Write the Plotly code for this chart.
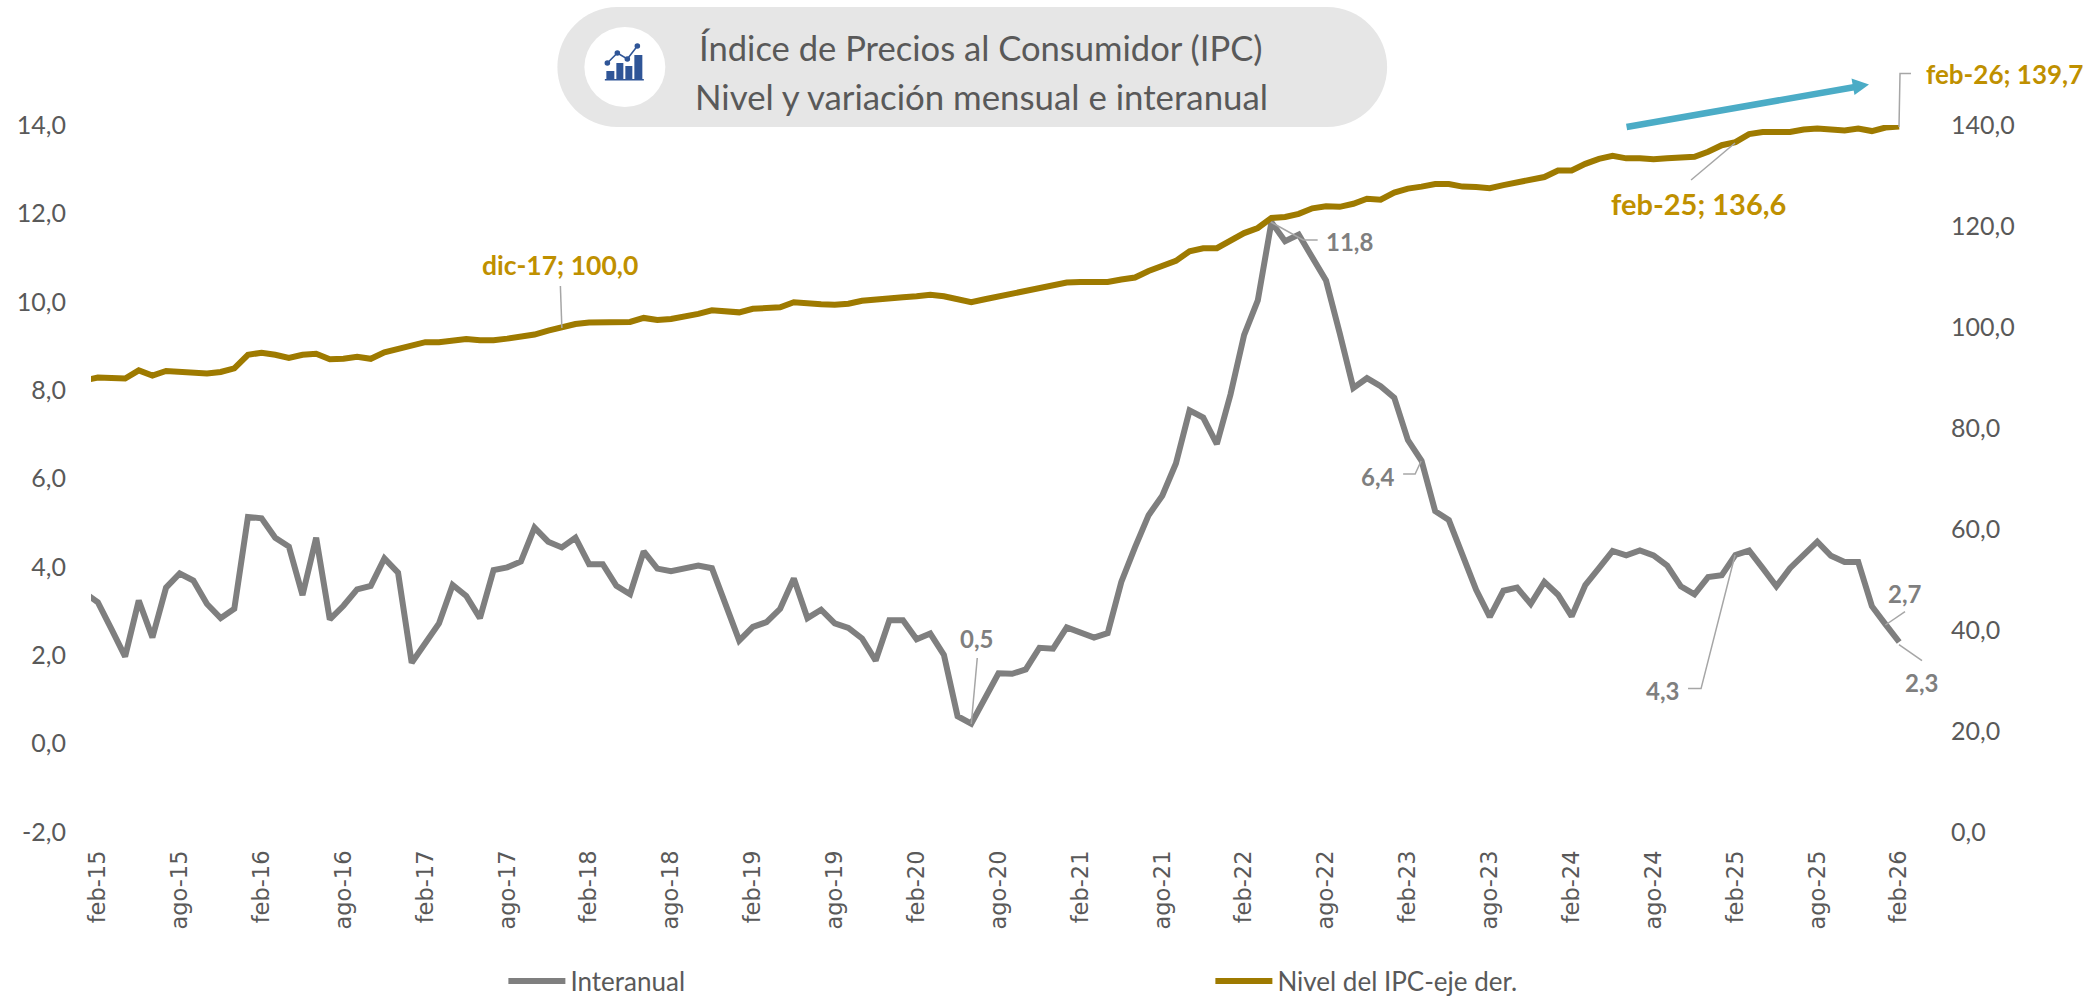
import plotly.graph_objects as go

MONTHS = ["ene","feb","mar","abr","may","jun","jul","ago","sep","oct","nov","dic"]
categories = [f"{m}-{y}" for y in range(15, 26) for m in MONTHS] + ["ene-26", "feb-26"]

interanual = [3.42,3.20,2.59,1.97,3.24,2.40,3.53,3.85,3.69,3.16,2.84,3.05,5.13,5.10,4.66,4.46,3.36,4.66,2.81,3.12,
3.49,3.57,4.19,3.87,1.83,2.25,2.72,3.59,3.34,2.84,3.93,3.99,4.12,4.89,4.57,4.44,4.66,4.06,4.06,3.57,
3.38,4.35,3.96,3.90,3.97,4.03,3.97,3.18,2.33,2.64,2.75,3.05,3.74,2.84,3.03,2.72,2.62,2.38,1.88,2.79,
2.79,2.36,2.49,2.01,0.62,0.45,1.01,1.59,1.58,1.68,2.17,2.15,2.63,2.51,2.40,2.50,3.66,4.44,5.17,5.61,
6.34,7.54,7.38,6.78,7.90,9.25,10.03,11.80,11.37,11.52,11.02,10.48,9.29,8.05,8.27,8.09,7.83,6.87,6.40,5.26,
5.06,4.25,3.48,2.87,3.46,3.53,3.16,3.66,3.37,2.88,3.59,3.97,4.36,4.26,4.37,4.26,4.03,3.56,3.38,3.77,
3.81,4.27,4.37,3.97,3.56,3.97,4.28,4.57,4.25,4.11,4.11,3.11,2.70,2.30]

nivel = [89.4,90.0,89.9,89.8,91.4,90.4,91.3,91.2,91.1,90.8,91.1,91.8,94.5,94.9,94.5,93.9,94.5,94.7,93.6,93.7,
94.1,93.7,95.0,95.6,96.2,97.0,97.0,97.4,97.6,97.4,97.4,97.7,98.1,98.5,99.3,100.0,100.6,100.9,100.9,100.9,
101.0,101.8,101.4,101.6,102.0,102.6,103.3,103.0,102.9,103.6,103.7,103.9,104.9,104.6,104.5,104.4,104.6,105.2,105.5,105.9,
105.9,106.1,106.4,106.1,105.4,104.9,105.5,106.1,106.4,107.0,107.7,108.4,108.8,108.9,109.0,108.9,109.4,109.8,111.1,112.1,
113.1,115.0,115.6,115.6,117.1,118.6,119.6,121.6,121.8,122.4,123.5,123.9,123.8,124.4,125.4,125.2,126.6,127.4,127.8,128.3,
128.3,127.8,127.7,127.5,128.1,128.7,129.4,129.7,131.0,131.0,132.3,133.3,133.9,133.4,133.4,133.2,133.4,133.5,133.7,134.7,
136.0,136.6,138.2,138.6,138.6,138.6,139.1,139.3,139.1,138.9,139.3,138.8,139.5,139.7]

x_ticks = ["feb-15","ago-15","feb-16","ago-16","feb-17","ago-17","feb-18","ago-18","feb-19","ago-19","feb-20","ago-20",
           "feb-21","ago-21","feb-22","ago-22","feb-23","ago-23","feb-24","ago-24","feb-25","ago-25","feb-26"]
left_ticks = [-2, 0, 2, 4, 6, 8, 10, 12, 14]
left_labels = ["-2,0","0,0","2,0","4,0","6,0","8,0","10,0","12,0","14,0"]
right_ticks = [0, 20, 40, 60, 80, 100, 120, 140]
right_labels = ["0,0","20,0","40,0","60,0","80,0","100,0","120,0","140,0"]

GOLD, GREY, TXT, LBL, LEAD = "#9e7a00", "#7f7f7f", "#595959", "#bf9000", "#a6a6a6"
FONT = "Lato"
W, H = 2091, 997
L, R, T, B = 90.5, 1906, 125, 832
xp = lambda x: (x - L) / (R - L)
yp = lambda y: (B - y) / (B - T)

fig = go.Figure()
fig.add_trace(go.Scatter(x=categories, y=interanual, name="Interanual", mode="lines",
                         line=dict(color=GREY, width=6, shape="linear")))
fig.add_trace(go.Scatter(x=categories, y=nivel, name="Nivel del IPC-eje der.", mode="lines", yaxis="y2",
                         line=dict(color=GOLD, width=6, shape="linear")))

shapes = []
def path(d, **kw):
    shapes.append(dict(type="path", xref="paper", yref="paper", path=d, layer=kw.pop("layer", "above"), **kw))
def poly(pts, close=False):
    s = "M" + " L".join(f"{xp(x):.5f},{yp(y):.5f}" for x, y in pts)
    return s + (" Z" if close else "")
def rect(x0, y0, x1, y1, color, layer="above"):
    shapes.append(dict(type="rect", xref="paper", yref="paper", x0=xp(x0), x1=xp(x1), y0=yp(y0), y1=yp(y1),
                       fillcolor=color, line=dict(width=0), layer=layer))
def dot(x, y, r, color, layer="above"):
    shapes.append(dict(type="circle", xref="paper", yref="paper", x0=xp(x-r), x1=xp(x+r), y0=yp(y+r), y1=yp(y-r),
                       fillcolor=color, line=dict(width=0), layer=layer))

# title pill
a, b, t, u, k = 557, 1387, 7, 127, 60
c = 33
pill = (f"M{xp(a+k)},{yp(t)} L{xp(b-k)},{yp(t)} "
        f"C{xp(b-k+c)},{yp(t)} {xp(b)},{yp(t+27)} {xp(b)},{yp(t+60)} "
        f"C{xp(b)},{yp(u-27)} {xp(b-k+c)},{yp(u)} {xp(b-k)},{yp(u)} "
        f"L{xp(a+k)},{yp(u)} "
        f"C{xp(a+k-c)},{yp(u)} {xp(a)},{yp(u-27)} {xp(a)},{yp(t+60)} "
        f"C{xp(a)},{yp(t+27)} {xp(a+k-c)},{yp(t)} {xp(a+k)},{yp(t)} Z")
path(pill, fillcolor="#e6e6e6", line=dict(width=0), layer="below")
shapes.append(dict(type="circle", xref="paper", yref="paper", x0=xp(584), x1=xp(665), y0=yp(107), y1=yp(27),
                   fillcolor="#ffffff", line=dict(width=0), layer="below"))
# icon
BLUE = "#2f5597"
for x0, x1, top in [(606, 614, 71), (616, 623, 63), (625, 632, 66), (634, 642, 55)]:
    rect(x0, top, x1, 79.5, BLUE)
rect(604.5, 79, 643.5, 80.5, BLUE)
path(poly([(607, 63), (617, 53), (627, 59), (637, 46)]), line=dict(color=BLUE, width=1.6))
for x, y in [(607, 63), (617, 53), (627, 59), (637, 46)]:
    dot(x, y, 2.8, BLUE)

# leaders
for pts in [
    [(560, 286), (561.5, 328)],
    [(1691, 180), (1735, 143)],
    [(1911, 73.5), (1900, 73.5), (1899, 127)],
    [(1270.6, 222), (1303, 240), (1317.5, 240)],
    [(977, 658), (971, 724)],
    [(1403, 474), (1415, 474), (1421, 461)],
    [(1688, 688.6), (1701, 688.6), (1735, 555)],
    [(1905, 611.6), (1885.4, 625)],
    [(1922, 660.6), (1899, 644.6)],
]:
    path(poly(pts), line=dict(color=LEAD, width=1.5))

# trend arrow
BLUE2 = "#4bacc6"
path(poly([(1626.5, 127), (1858, 86.5)]), line=dict(color=BLUE2, width=6.5))
path(poly([(1869, 84.5), (1851.5, 78.5), (1854.5, 95)], close=True), fillcolor=BLUE2, line=dict(width=0))

anns = []
def label(text, x, y, color, size=26, bold=True):
    anns.append(dict(xref="paper", yref="paper", x=xp(x), y=yp(y), text=f"<b>{text}</b>" if bold else text,
                     showarrow=False, xanchor="center", yanchor="middle",
                     font=dict(family=FONT, size=size, color=color)))
label("dic-17; 100,0", 560, 265, LBL, 26.5)
label("feb-25; 136,6", 1698, 203, LBL, 29)
label("feb-26; 139,7", 2005, 74, LBL)
label("11,8", 1349, 241, GREY, 24)
label("0,5", 976, 638, GREY, 24)
label("6,4", 1378, 476, GREY, 24)
label("4,3", 1662, 690, GREY, 24)
label("2,7", 1905, 593, GREY, 24)
label("2,3", 1922, 682, GREY, 24)
label("Índice de Precios al Consumidor (IPC)", 981, 48, TXT, 34.6, False)
label("Nivel y variación mensual e interanual", 981, 96, TXT, 34.8, False)

tick_font = dict(family=FONT, size=25, color=TXT)
fig.update_layout(
    width=W, height=H, autosize=False,
    margin=dict(l=L, r=W - R, t=T, b=H - B, pad=0, autoexpand=False),
    paper_bgcolor="#ffffff", plot_bgcolor="#ffffff",
    shapes=shapes, annotations=anns,
    xaxis=dict(type="category", categoryorder="array", categoryarray=categories, range=[0.5, 133.5],
               tickmode="array", tickvals=x_ticks, ticktext=x_ticks, tickangle=-90, showgrid=False, zeroline=False,
               showline=False, ticks="", ticklabelstandoff=13, automargin=False,
               tickfont=dict(family="DejaVu Sans", size=22.5, color=TXT)),
    yaxis=dict(range=[-2, 14], tickmode="array", tickvals=left_ticks, ticktext=left_labels, showgrid=False,
               zeroline=False, showline=False, ticks="", ticklabelstandoff=24, automargin=False, tickfont=tick_font),
    yaxis2=dict(range=[0, 140], overlaying="y", side="right", tickmode="array", tickvals=right_ticks,
                ticktext=right_labels, showgrid=False, zeroline=False, showline=False, ticks="",
                ticklabelstandoff=44, automargin=False, tickfont=tick_font),
    legend=dict(orientation="h", x=xp(503), y=yp(981), xanchor="left", yanchor="middle", entrywidth=635,
                entrywidthmode="pixels", itemwidth=57, font=dict(family=FONT, size=26, color=TXT),
                bgcolor="rgba(0,0,0,0)"),
)
fig.write_html("out.html", config={"displayModeBar": False},
               post_script="document.body.style.margin='0';document.body.style.overflow='hidden';")
